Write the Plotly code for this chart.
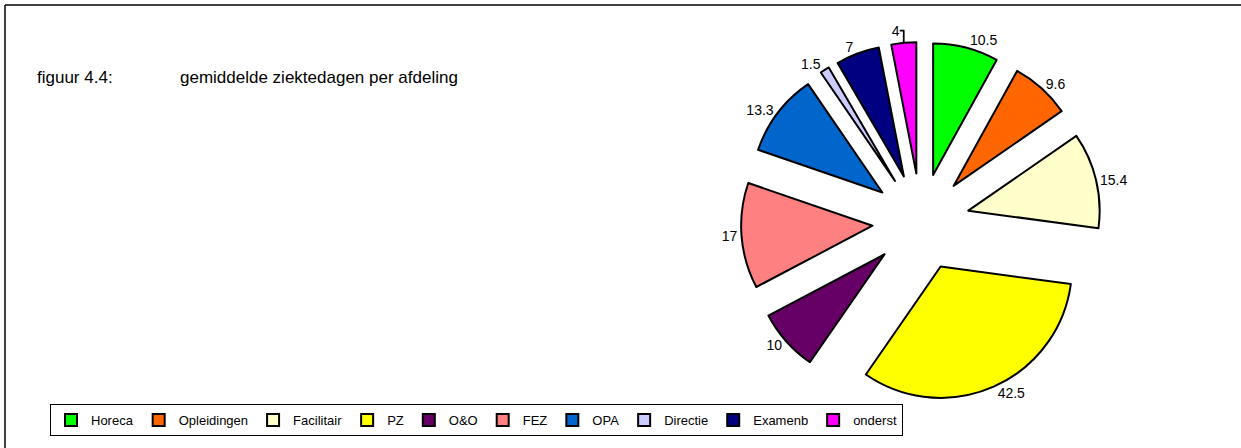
import plotly.graph_objects as go

departments = ["Horeca", "Opleidingen", "Facilitair", "PZ", "O&O", "FEZ", "OPA",
               "Directie", "Examenb", "onderst"]
sick_days = [10.5, 9.6, 15.4, 42.5, 10, 17, 13.3, 1.5, 7, 4]
slice_colors = ["#00FF00", "#FF6600", "#FFFFCC", "#FFFF00", "#660066", "#FF8080",
                "#0066CC", "#CCCCFF", "#000080", "#FF00FF"]

W, H = 1241, 448
FONT = "Arial, Liberation Sans, sans-serif"


def px(x, y):
    return x / W, 1 - y / H


fig = go.Figure(go.Pie(
    labels=departments,
    values=sick_days,
    sort=False,
    direction="clockwise",
    rotation=0,
    pull=[0.37] * len(sick_days),
    marker=dict(colors=slice_colors, line=dict(color="#000000", width=2)),
    textinfo="value",
    textposition="outside",
    textfont=dict(family=FONT, size=14, color="#000000"),
    domain=dict(x=[741 / W, 1101 / W], y=[1 - 402 / H, 1 - 42 / H]),
    automargin=False,
    hoverinfo="label+value",
))

x0, y0 = px(35, 78)
x1, _ = px(178, 78)
fig.add_annotation(x=x0, y=y0, xref="paper", yref="paper", text="figuur 4.4:",
                   showarrow=False, xanchor="left", yanchor="middle",
                   font=dict(family=FONT, size=17, color="#000000"))
fig.add_annotation(x=x1, y=y0, xref="paper", yref="paper",
                   text="gemiddelde ziektedagen per afdeling",
                   showarrow=False, xanchor="left", yanchor="middle",
                   font=dict(family=FONT, size=17, color="#000000"))

# outer frame (only top and left edges visible)
fig.add_shape(type="line", xref="paper", yref="paper", x0=5 / W, x1=1, y0=1 - 5 / H, y1=1 - 5 / H,
              line=dict(color="#000000", width=1.5))
fig.add_shape(type="line", xref="paper", yref="paper", x0=5 / W, x1=5 / W, y0=1 - 5 / H, y1=0,
              line=dict(color="#000000", width=1.5))

lx, ly = px(50, 404)
fig.update_layout(
    width=W, height=H,
    margin=dict(l=0, r=0, t=0, b=0, autoexpand=False),
    paper_bgcolor="#ffffff",
    plot_bgcolor="#ffffff",
    showlegend=True,
    legend=dict(
        orientation="h", x=lx, y=ly, xanchor="left", yanchor="top",
        font=dict(family=FONT, size=13, color="#000000"),
        bgcolor="#ffffff", bordercolor="#000000", borderwidth=1,
        itemwidth=30, tracegroupgap=0,
    ),
)

fig.write_html("out.html", config={"displayModeBar": False},
               post_script="document.body.style.margin='0';")
